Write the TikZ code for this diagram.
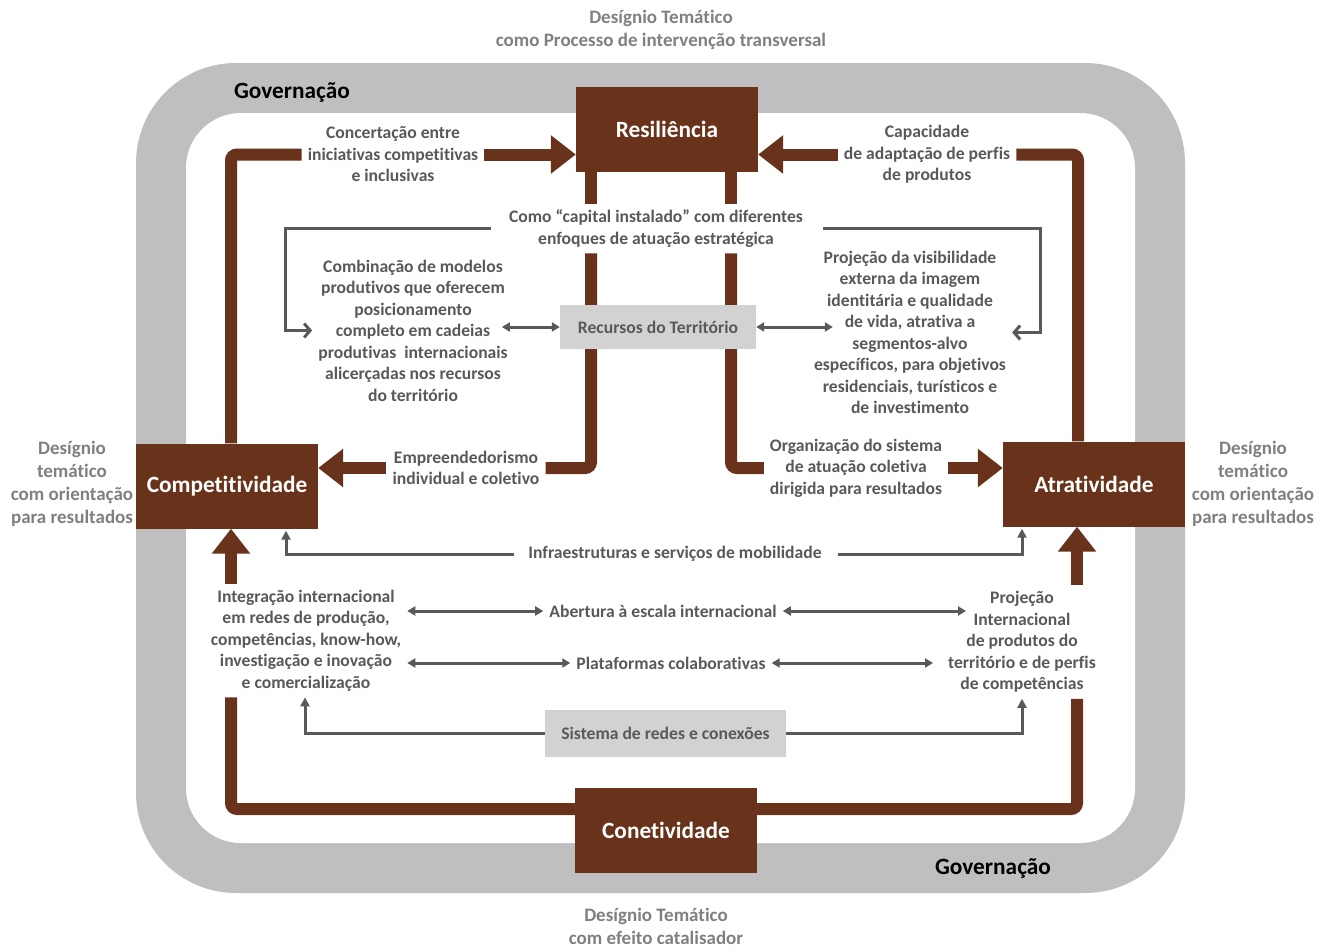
\documentclass[tikz,border=0pt]{standalone}
\usepackage{fontspec}
\setmainfont{Carlito}[Ligatures=NoCommon]
\usetikzlibrary{arrows.meta,calc}
\pgfdeclarelayer{bg}\pgfdeclarelayer{lines}
\pgfsetlayers{bg,lines,main}
\definecolor{brn}{RGB}{104,51,26}
\definecolor{band}{RGB}{191,191,191}
\definecolor{lbox}{RGB}{210,210,210}
\definecolor{tgray}{RGB}{89,89,89}
\definecolor{ogray}{RGB}{128,128,128}
\begin{document}
\begin{tikzpicture}[x=1pt,y=-1pt,
  bigbox/.style={fill=brn, text=white, minimum width=182pt, minimum height=85pt, inner sep=0pt, font=\fontsize{23.3}{28}\selectfont\bfseries},
  lbl/.style={text=tgray, align=center, inner sep=6pt, font=\fontsize{17.6}{21.5}\selectfont\bfseries},
  outer/.style={text=ogray, align=center, inner sep=0pt, font=\fontsize{19}{23}\selectfont\bfseries},
  gov/.style={text=black, inner sep=0pt, font=\fontsize{23.3}{28}\selectfont\bfseries},
  graybox/.style={fill=lbox, text=tgray, inner sep=0pt, font=\fontsize{17.6}{21.5}\selectfont\bfseries},
  bline/.style={draw=brn, line width=12pt, rounded corners=6pt},
  barrow/.style={draw=brn, line width=12pt, -{Triangle[length=25pt,width=37pt]}},
  gline/.style={draw=tgray, line width=3pt},
  garrow/.style={gline, -{Triangle[length=9pt,width=9pt]}},
  gbarb/.style={gline, -{Straight Barb[length=6pt,width=14pt]}},
  gdouble/.style={gline, {Triangle[length=8pt,width=9pt]}-{Triangle[length=8pt,width=9pt]}},
]
\begin{pgfonlayer}{bg}
\fill[white] (0,0) rectangle (1331,948);
\fill[band, rounded corners=100pt] (136,63) rectangle (1185,893);
\fill[white, rounded corners=55pt] (186,113) rectangle (1135,843);
\end{pgfonlayer}
\useasboundingbox (0,0) rectangle (1331,948);

% main boxes
\node[bigbox] (res) at (667,129.5) {Resiliência};
\node[bigbox] (comp) at (227,486) {Competitividade};
\node[bigbox] (atr) at (1094,484) {Atratividade};
\node[bigbox] (con) at (666,830) {Conetividade};

% labels
\node[lbl] (conc) at (393,154.5) {Concertação entre\\iniciativas competitivas\\e inclusivas};
\node[lbl] (cap) at (927,154.5) {Capacidade\\de adaptação de perfis\\de produtos};
\node[lbl] (inst) at (656,228.5) {Como “capital instalado” com diferentes\\enfoques de atuação estratégica};
\node[lbl] (comb) at (413,330.5) {Combinação de modelos\\produtivos que oferecem\\posicionamento\\completo em cadeias\\produtivas\ \ internacionais\\alicerçadas nos recursos\\do território};
\node[lbl] (proj) at (910,332.5) {Projeção da visibilidade\\externa da imagem\\identitária e qualidade\\de vida, atrativa a\\segmentos-alvo\\específicos, para objetivos\\residenciais, turísticos e\\de investimento};
\node[graybox, minimum width=196pt, minimum height=44pt] (rec) at (658,327) {Recursos do Território};
\node[lbl] (empr) at (466,468) {Empreendedorismo\\individual e coletivo};
\node[lbl] (org) at (856,468) {Organização do sistema\\de atuação coletiva\\dirigida para resultados};
\node[lbl] (infra) at (675,554) {Infraestruturas e serviços de mobilidade};
\node[lbl] (integ) at (306,640.5) {Integração internacional\\em redes de produção,\\competências, know-how,\\investigação e inovação\\e comercialização};
\node[lbl] (abert) at (663,611) {Abertura à escala internacional};
\node[lbl] (plat) at (671,663) {Plataformas colaborativas};
\node[lbl] (projint) at (1022,642) {Projeção\\Internacional\\de produtos do\\território e de perfis\\de competências};
\node[graybox, minimum width=241pt, minimum height=47pt] (sist) at (665.5,733.5) {Sistema de redes e conexões};

% outer texts
\node[outer] (ttop) at (661,30) {Desígnio Temático\\como Processo de intervenção transversal};
\node[outer] (tleft) at (72,484) {Desígnio\\temático\\com orientação\\para resultados};
\node[outer] (tright) at (1253,484) {Desígnio\\temático\\com orientação\\para resultados};
\node[outer] (tbot) at (656,926) {Desígnio Temático\\com efeito catalisador};
\node[gov] (gov1) at (292,93) {Governação};
\node[gov] (gov2) at (993,868) {Governação};

% helper coordinates
\path (comb.east) ++(-12,0) coordinate (combE);
\path (proj.west) ++(25,0) coordinate (projW);
\path (projint.west) ++(24,0) coordinate (projintA);
\path (projint.west) ++(-9,0) coordinate (projintP);

\begin{pgfonlayer}{lines}
% brown connectors
\draw[bline] (231,0 |- comp.north) |- (conc.west);
\draw[barrow] (conc.east) -- (conc.east -| res.west);
\draw[barrow] (cap.west) -- (cap.west -| res.east);
\draw[bline] (cap.east) -| (1078,0 |- atr.north);
\draw[bline] (591,0 |- res.south) -- (591,0 |- inst.north);
\draw[bline] (591,0 |- inst.south) |- (empr.east);
\draw[barrow] (empr.west) -- (empr.west -| comp.east);
\draw[bline] (731,0 |- res.south) -- (731,0 |- inst.north);
\draw[bline] (731,0 |- inst.south) |- (org.west);
\draw[barrow] (org.east) -- (org.east -| atr.west);
\draw[barrow] (231,0 |- integ.north) -- (231,0 |- comp.south);
\draw[bline] (231,0 |- integ.south) |- (con.west |- 0,809);
\draw[bline] (con.east |- 0,809) -| (1077,0 |- projint.south);
\draw[barrow] (1077,0 |- projint.north) -- (1077,0 |- atr.south);
% gray connectors
\draw[gbarb] ([xshift=-12pt]inst.west) -| (285,0 |- comb.west) -- (comb.west);
\draw[gbarb] ([xshift=14pt]inst.east) -| (1040,0 |- proj.east) -- (proj.east);
\draw[gdouble] (combE |- rec.west) -- (rec.west);
\draw[gdouble] (rec.east) -- (projW |- rec.east);
\draw[garrow, shorten >=2pt] ([xshift=-8pt]infra.west) -| (286,0 |- comp.south);
\draw[garrow, shorten >=2pt] ([xshift=10pt]infra.east) -| (1022,0 |- atr.south);
\draw[gdouble] (integ.east |- abert.west) -- (abert.west);
\draw[gdouble] (abert.east) -- (projintA |- abert.east);
\draw[gdouble] (integ.east |- plat.west) -- (plat.west);
\draw[gdouble] (plat.east) -- (projintP |- plat.east);
\draw[garrow] (sist.west) -| (305,0 |- integ.south);
\draw[garrow] (sist.east) -| (1022,0 |- projint.south);
\end{pgfonlayer}
\end{tikzpicture}
\end{document}
